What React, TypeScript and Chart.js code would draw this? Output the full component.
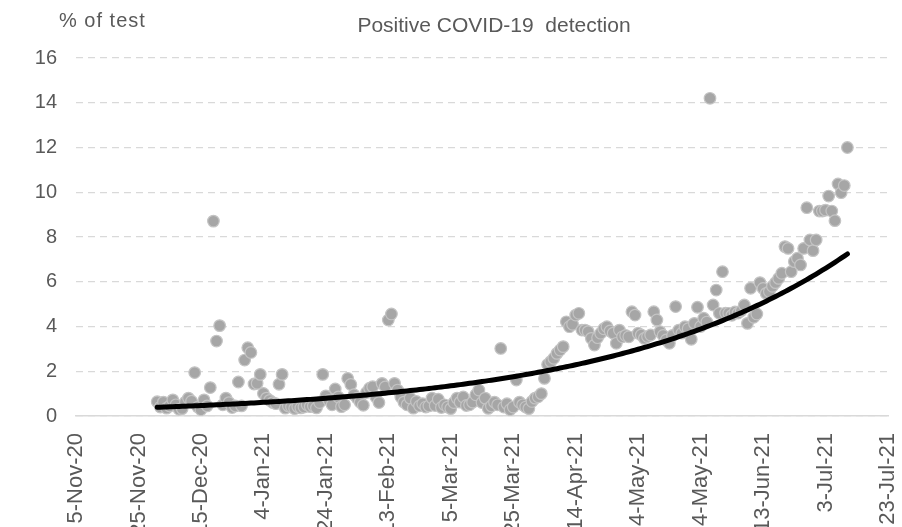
import React, { useEffect, useRef } from 'react';
import { Chart, registerables } from 'chart.js';

Chart.register(...registerables);

// ---- Chart text ----
const titleText = 'Positive COVID-19  detection';
const yUnitText = '% of test';

// ---- Axes (x values are Excel date serials) ----
const xMin = 44140; // 5-Nov-20
const xMax = 44400; // 23-Jul-21
const xStep = 20;
const yMin = 0;
const yMax = 16;
const yStep = 2;
const monthNames = ['Jan', 'Feb', 'Mar', 'Apr', 'May', 'Jun', 'Jul', 'Aug', 'Sep', 'Oct', 'Nov', 'Dec'];

// ---- Daily positive rate (% of tests), one array per month ----
const dec2020 = [0.64, 0.4, 0.62, 0.35, 0.45, 0.72, 0.5, 0.3, 0.33, 0.62, 0.8, 0.66, 1.94, 0.4, 0.28, 0.72, 0.45, 1.27, 8.71, 3.35, 4.04, 0.5, 0.8, 0.6, 0.38, 0.45, 1.52, 0.45, 2.5, 3.05, 2.84];
const jan2021 = [1.43, 1.46, 1.86, 1.01, 0.8, 0.7, 0.6, 0.55, 1.42, 1.86, 0.35, 0.45, 0.4, 0.33, 0.42, 0.36, 0.4, 0.5, 0.42, 0.45, 0.36, 0.6, 1.86, 0.9, 0.7, 0.5, 1.21, 0.85, 0.42, 0.5, 1.68];
const feb2021 = [1.41, 0.95, 0.8, 0.62, 0.48, 1.05, 1.24, 1.31, 0.85, 0.6, 1.46, 1.3, 4.29, 4.56, 1.46, 1.16, 0.85, 0.62, 0.5, 0.8, 0.35, 0.65, 0.45, 0.55, 0.4, 0.45, 0.8, 0.47];
const mar2021 = [0.75, 0.38, 0.5, 0.4, 0.33, 0.6, 0.8, 0.62, 0.85, 0.47, 0.5, 0.62, 0.95, 1.16, 0.6, 0.8, 0.34, 0.45, 0.62, 0.5, 3.02, 0.4, 0.55, 0.28, 0.4, 1.61, 0.62, 0.5, 0.4, 0.33, 0.65];
const apr2021 = [0.8, 0.86, 1.0, 1.68, 2.3, 2.43, 2.58, 2.8, 2.95, 3.1, 4.21, 3.99, 4.1, 4.51, 4.59, 3.84, 3.84, 3.77, 3.47, 3.17, 3.5, 3.7, 3.9, 3.99, 3.8, 3.7, 3.25, 3.84, 3.54, 3.6];
const may2021 = [3.54, 4.66, 4.51, 3.7, 3.62, 3.47, 3.55, 3.62, 4.66, 4.29, 3.77, 3.6, 3.4, 3.25, 3.6, 4.89, 3.84, 3.7, 3.99, 3.9, 3.43, 4.14, 4.86, 4.0, 4.37, 4.2, 14.2, 4.96, 5.63, 4.59, 6.45];
const jun2021 = [4.6, 4.59, 4.5, 4.65, 4.6, 4.7, 4.96, 4.14, 5.71, 4.41, 4.56, 5.96, 5.7, 5.48, 5.56, 5.8, 5.96, 6.15, 6.38, 7.57, 7.49, 6.45, 6.9, 7.05, 6.75, 7.49, 9.31, 7.87, 7.39, 7.87];
const jul2021 = [9.16, 9.16, 9.2, 9.83, 9.16, 8.73, 10.37, 9.98, 10.3, 12.0];

const monthStarts = ['2020-12-01', '2021-01-01', '2021-02-01', '2021-03-01', '2021-04-01', '2021-05-01', '2021-06-01', '2021-07-01'];
const monthValues = [dec2020, jan2021, feb2021, mar2021, apr2021, may2021, jun2021, jul2021];

const EXCEL_EPOCH = Date.UTC(1899, 11, 30);
const DAY_MS = 86400000;
const toSerial = (iso: string) => Math.round((Date.parse(iso + 'T00:00:00Z') - EXCEL_EPOCH) / DAY_MS);
const fmtSerial = (serial: number) => {
  const d = new Date(EXCEL_EPOCH + serial * DAY_MS);
  return `${d.getUTCDate()}-${monthNames[d.getUTCMonth()]}-${String(d.getUTCFullYear()).slice(2)}`;
};

function buildPoints() {
  const pts: { x: number; y: number }[] = [];
  monthStarts.forEach((start, i) => {
    const s = toSerial(start);
    monthValues[i].forEach((v, j) => pts.push({ x: s + j, y: v }));
  });
  return pts;
}

// Exponential trendline (least squares on ln y), as Excel computes it
function buildTrend(pts: { x: number; y: number }[]) {
  const n = pts.length;
  const x0 = pts[0].x;
  let sx = 0, sy = 0, sxx = 0, sxy = 0;
  pts.forEach((p) => {
    const x = p.x - x0;
    const ly = Math.log(p.y);
    sx += x; sy += ly; sxx += x * x; sxy += x * ly;
  });
  const b = (n * sxy - sx * sy) / (n * sxx - sx * sx);
  const lnA = (sy - b * sx) / n;
  return pts.map((p) => ({ x: p.x, y: Math.exp(lnA + b * (p.x - x0)) }));
}

const TEXT_COLOR = '#595959';
const FONT_FAMILY = '"Liberation Sans", Arial, Helvetica, sans-serif';

const textPlugin = {
  id: 'chartTexts',
  afterDraw(chart: any) {
    const { ctx, chartArea } = chart;
    ctx.save();
    ctx.fillStyle = TEXT_COLOR;
    ctx.textBaseline = 'alphabetic';
    ctx.font = `21px ${FONT_FAMILY}`;
    ctx.textAlign = 'center';
    ctx.fillText(titleText, (chartArea.left + chartArea.right) / 2 + 12, 32);
    ctx.font = `20px ${FONT_FAMILY}`;
    ctx.textAlign = 'left';
    try { (ctx as any).letterSpacing = '1px'; } catch (e) {}
    ctx.fillText(yUnitText, 59, 27);
    ctx.restore();
  },
};

export default function App() {
  const canvasRef = useRef<HTMLCanvasElement | null>(null);

  useEffect(() => {
    if (!canvasRef.current) return;
    const points = buildPoints();
    const trend = buildTrend(points);
    const chart = new Chart(canvasRef.current, {
      type: 'scatter',
      data: {
        datasets: [
          {
            label: 'Trend',
            data: trend,
            showLine: true,
            borderColor: '#000000',
            borderWidth: 5,
            borderCapStyle: 'round',
            pointRadius: 0,
            order: 0,
          } as any,
          {
            label: 'Positive rate',
            data: points,
            backgroundColor: '#a6a6a6',
            borderColor: '#c4c4c4',
            borderWidth: 1.2,
            pointRadius: 5.8,
            order: 1,
          },
        ],
      },
      options: {
        responsive: false,
        animation: false,
        devicePixelRatio: 1,
        layout: { padding: { top: 58, right: 14, left: 0, bottom: 0 } },
        plugins: {
          legend: { display: false },
          tooltip: { enabled: false },
          title: { display: false },
        },
        scales: {
          x: {
            type: 'linear',
            min: xMin,
            max: xMax,
            afterFit: (s: any) => {
              s.height = 144;
              s.paddingLeft = 0;
              s.paddingRight = 0;
            },
            ticks: {
              stepSize: xStep,
              autoSkip: false,
              minRotation: 90,
              maxRotation: 90,
              padding: 17,
              color: TEXT_COLOR,
              font: { size: 22, family: FONT_FAMILY },
              callback: (v: any) => fmtSerial(Number(v)),
            },
            grid: { display: false, drawTicks: false },
            border: { display: true, color: '#d9d9d9', width: 1.5 },
          },
          y: {
            min: yMin,
            max: yMax,
            afterFit: (s: any) => {
              s.width = 76;
              s.paddingTop = 0;
              s.paddingBottom = 0;
            },
            ticks: {
              stepSize: yStep,
              padding: 19,
              color: TEXT_COLOR,
              font: { size: 20, family: FONT_FAMILY },
            },
            grid: { color: '#d9d9d9', lineWidth: 1.3, drawTicks: false },
            border: { display: false, dash: [7, 5] },
          },
        },
      } as any,
      plugins: [textPlugin],
    });
    return () => chart.destroy();
  }, []);

  return (
    <div style={{ position: 'fixed', left: 0, top: 0, width: 902, height: 527, overflow: 'hidden', background: '#ffffff' }}>
      <canvas ref={canvasRef} width={902} height={560} style={{ display: 'block' }} />
    </div>
  );
}
